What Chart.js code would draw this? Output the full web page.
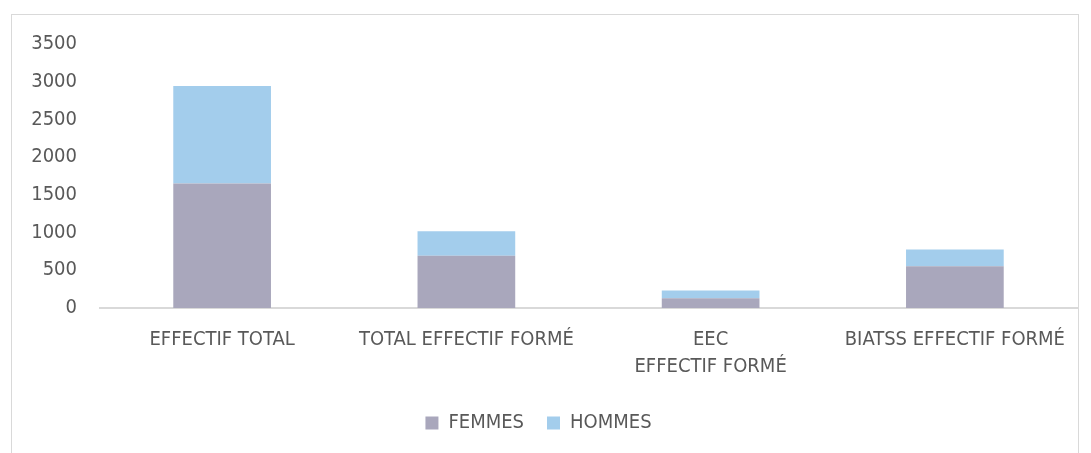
<!DOCTYPE html>
<html>
<head>
<meta charset="utf-8">
<script src="https://cdn.jsdelivr.net/npm/chart.js@4.4.0/dist/chart.umd.min.js"></script>
<style>
  html, body { margin: 0; padding: 0; background: #ffffff; width: 1091px; height: 453px; overflow: hidden; }
  #frame { position: absolute; left: 11px; top: 14px; width: 1068px; height: 460px; border: 1px solid #d9d9d9; box-sizing: border-box; }
  #wrap { position: absolute; left: 0; top: 0; width: 1091px; height: 453px; }
</style>
</head>
<body>
<div id="frame"></div>
<div id="wrap"><canvas id="c" width="1091" height="453"></canvas></div>
<script>
const categories = ["EFFECTIF TOTAL", "TOTAL EFFECTIF FORMÉ", ["EEC", "EFFECTIF FORMÉ"], "BIATSS EFFECTIF FORMÉ"];
const femmes = [1650, 693, 130, 555];
const hommes = [1292, 323, 102, 222];
const seriesNames = ["FEMMES", "HOMMES"];
const yTicks = [0, 500, 1000, 1500, 2000, 2500, 3000, 3500];

const FONT = "'DejaVu Sans Condensed', 'DejaVu Sans', 'Liberation Sans', sans-serif";
const TEXT = '#595959';

new Chart(document.getElementById('c'), {
  type: 'bar',
  data: {
    labels: categories,
    datasets: [
      { label: seriesNames[0], data: femmes, backgroundColor: '#a9a7bc', borderWidth: 0, categoryPercentage: 1, barPercentage: 0.4 },
      { label: seriesNames[1], data: hommes, backgroundColor: '#a3cdec', borderWidth: 0, categoryPercentage: 1, barPercentage: 0.4 }
    ]
  },
  options: {
    responsive: false,
    animation: false,
    layout: { padding: { left: 0, right: 14, top: 44, bottom: 10 } },
    plugins: {
      tooltip: { enabled: false },
      legend: {
        position: 'bottom',
        labels: {
          font: { family: FONT, size: 20 },
          color: TEXT,
          boxWidth: 13,
          boxHeight: 13,
          padding: 23
        }
      }
    },
    scales: {
      x: {
        stacked: true,
        grid: { display: false, drawTicks: false },
        border: { display: true, color: '#d9d9d9', width: 2 },
        ticks: {
          font: { family: FONT, size: 20, lineHeight: 1.37 },
          color: TEXT,
          maxRotation: 0,
          autoSkip: false,
          padding: 18
        },
        afterFit: (s) => { s.height = 82; }
      },
      y: {
        stacked: true,
        min: 0,
        max: 3500,
        grid: { display: false, drawTicks: false },
        border: { display: false },
        afterBuildTicks: (s) => { s.ticks = yTicks.map(v => ({ value: v })); },
        ticks: {
          font: { family: FONT, size: 20 },
          color: TEXT,
          padding: 23,
          callback: (v) => String(v)
        },
        afterFit: (s) => { s.width = 100; }
      }
    }
  }
});
</script>
</body>
</html>
